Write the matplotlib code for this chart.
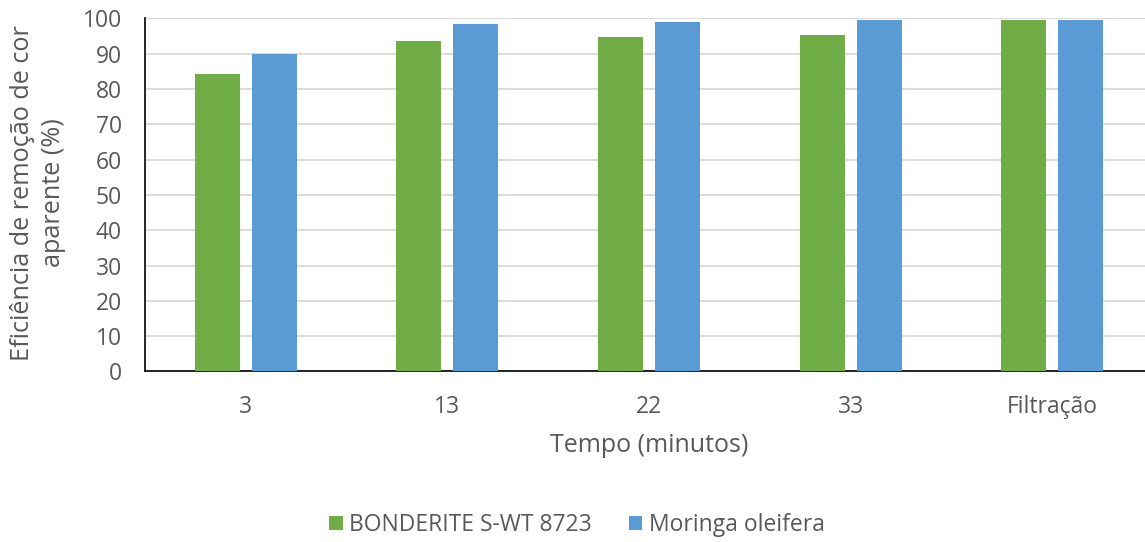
import matplotlib
matplotlib.use("Agg")
import matplotlib.pyplot as plt
import numpy as np

categories = ["3", "13", "22", "33", "Filtração"]
bonderite = [84.2, 93.6, 94.7, 95.2, 99.4]
moringa = [90.0, 98.3, 98.9, 99.4, 99.4]
series_names = ["BONDERITE S-WT 8723", "Moringa oleifera"]
yticks = [0, 10, 20, 30, 40, 50, 60, 70, 80, 90, 100]

plt.rcParams['font.family'] = ['Open Sans', 'DejaVu Sans']
text_color = "#595959"

fig = plt.figure(figsize=(11.45, 5.42), dpi=100)
ax = fig.add_axes([0.1266, 0.3146, 0.8804, 0.6516])

x = np.arange(len(categories))
w = 0.223
ax.bar(x - 0.141, bonderite, w, color="#70AD47", label=series_names[0], zorder=3)
ax.bar(x + 0.141, moringa, w, color="#5B9BD5", label=series_names[1], zorder=3)

ax.set_xlim(-0.5, len(categories) - 0.5)
ax.set_ylim(0, 100)
ax.set_yticks(yticks)
ax.set_xticks(x)
ax.set_xticklabels(categories)
ax.yaxis.grid(True, color="#D9D9D9", linewidth=1.3, zorder=0)
ax.set_axisbelow(True)
for s in ["top", "right"]:
    ax.spines[s].set_visible(False)
ax.spines["left"].set_color("#000000")
ax.spines["bottom"].set_color("#000000")
ax.spines["left"].set_linewidth(1.2)
ax.spines["bottom"].set_linewidth(1.2)
ax.tick_params(axis="both", length=0, labelsize=16.5, colors=text_color)
ax.tick_params(axis="x", pad=17)
ax.tick_params(axis="y", pad=16.5)

ax.set_xlabel("Tempo (minutos)", fontsize=18, color=text_color, labelpad=10)
fig.text(38 / 1145, 1 - 193 / 542, "Eficiência de remoção de cor\naparente (%)",
         rotation=90, ha="center", va="center", multialignment="center",
         fontsize=18.2, color=text_color, linespacing=1.3)

leg = fig.legend(loc="center", bbox_to_anchor=(0.504, 0.031), ncol=2, frameon=False,
                 fontsize=16.5, handlelength=0.57, handleheight=0.57,
                 handletextpad=0.3, columnspacing=1.6)
for t in leg.get_texts():
    t.set_color(text_color)

fig.savefig("out.png", dpi=100)
